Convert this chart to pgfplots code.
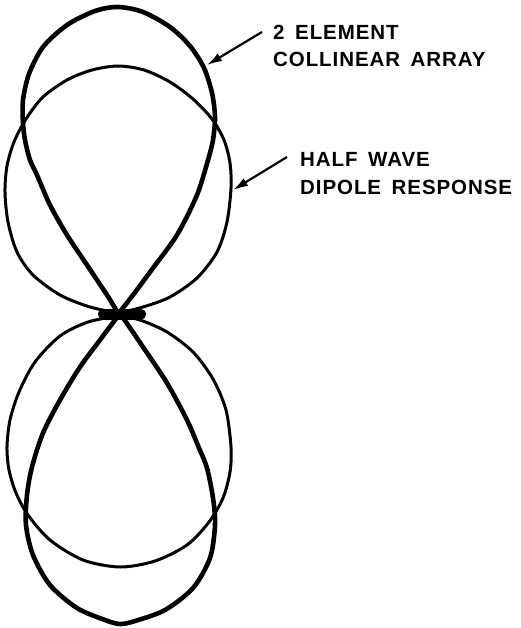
\documentclass[border=0pt]{standalone}
\usepackage{fontspec}
\setmainfont{Liberation Sans}
\newfontfamily\labfont[LetterSpace=4.5,WordSpace=1.6]{Liberation Sans}
\usepackage{pgfplots}
\pgfplotsset{compat=1.18}
\usetikzlibrary{arrows.meta}

% traced outline of the two patterns, in picture pixels (y downwards)
\pgfplotstableread{
x y
118 313
107 295
87 265
67 235
50 205
37 175
30 160
25 140
23 123
23 100
29 74
43 47
67 25
95 11
118 7
143 12
170 27
190 46
204 68
212 93
215 117
213 140
208 160
197 195
177 235
153 268
133 295
119 313
}\collup
\pgfplotstableread{
x y
118 316
100 340
80 367
60 400
43 433
32 467
27 495
26 525
33 555
50 585
77 608
105 620
120 624
135 621
165 610
193 588
210 558
215 525
213 498
207 468
199 448
187 420
167 383
143 347
123 318
119 316
}\coldown
\pgfplotstableread{
x y
118 313
90 307
60 295
33 275
17 252
8 222
5 192
7 166
14 142
26 119
43 97
67 80
92 70
118 66
144 70
170 82
193 99
212 119
224 140
230 163
231 188
227 222
217 252
197 278
170 297
143 307
119 313
}\dipup
\pgfplotstableread{
x y
118 316
88 322
60 336
35 362
19 392
10 420
7 447
9 470
16 493
28 515
50 540
83 560
120 567
155 561
187 545
209 522
223 498
230 472
231 447
226 410
213 379
193 352
167 332
140 320
119 316
}\dipdown

\begin{document}
\begin{tikzpicture}
\begin{axis}[
  scale only axis, width=520pt, height=628pt,
  xmin=0, xmax=520, ymin=0, ymax=628, y dir=reverse,
  hide axis, clip=false,
]
\addplot[black, line width=4.6pt, smooth, line join=round] table {\collup};
\addplot[black, line width=4.6pt, smooth, line join=round] table {\coldown};
\addplot[black, line width=3pt, smooth, line join=round] table {\dipup};
\addplot[black, line width=3pt, smooth, line join=round] table {\dipdown};
% the antenna itself
\addplot[black, line width=11pt, line cap=round] coordinates {(103.5,314) (140.5,314)};

\draw[line width=2.2pt, -{Latex[length=15pt,width=9pt]}] (axis cs:262,32) -- (axis cs:207,65);
\draw[line width=2.2pt, -{Latex[length=15pt,width=9pt]}] (axis cs:287,157) -- (axis cs:233,190);

\tikzset{lab/.style={anchor=base west, inner sep=0pt, font=\labfont\bfseries\fontsize{20.5}{20.5}\selectfont}}
\node[lab] at (axis cs:273,40) {2 ELEMENT};
\node[lab] at (axis cs:273,67) {COLLINEAR ARRAY};
\node[lab] at (axis cs:300,167) {HALF WAVE};
\node[lab] at (axis cs:300,195) {DIPOLE RESPONSE};
\end{axis}
\pgfresetboundingbox
\path[use as bounding box] (0,0) rectangle (520pt,628pt);
\end{tikzpicture}
\end{document}
